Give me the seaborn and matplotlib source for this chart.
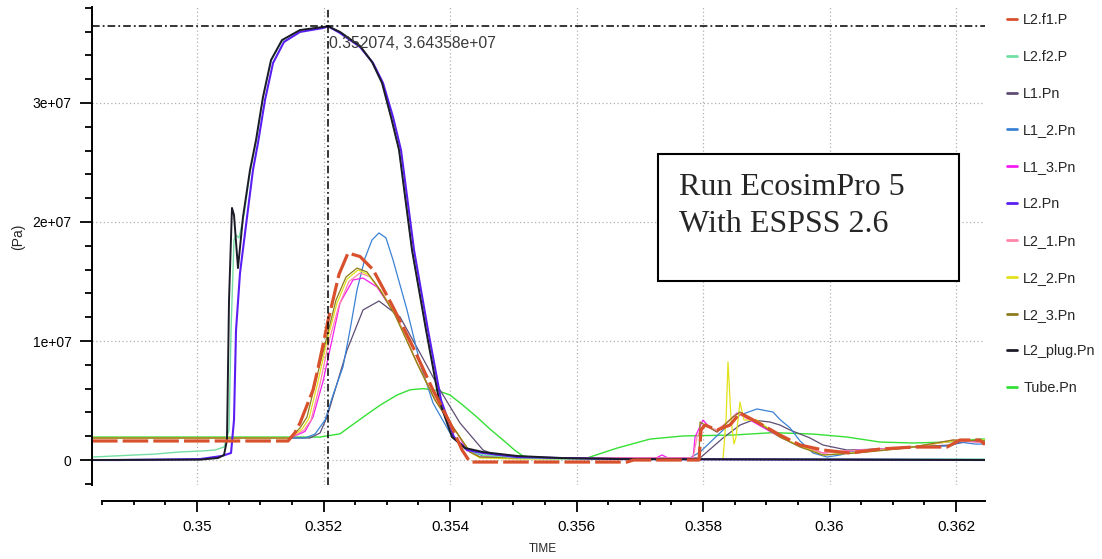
import numpy as np
import pandas as pd
import matplotlib
matplotlib.use("Agg")
import matplotlib.pyplot as plt
import seaborn as sns
from matplotlib.lines import Line2D
from matplotlib.patches import Rectangle
from matplotlib.ticker import MultipleLocator, FuncFormatter

# ---------------- data: time [s], pressure [1e6 Pa] ----------------
series_names = ["L2.f1.P", "L2.f2.P", "L1.Pn", "L1_2.Pn", "L1_3.Pn", "L2.Pn",
                "L2_1.Pn", "L2_2.Pn", "L2_3.Pn", "L2_plug.Pn", "Tube.Pn"]
series_colors = ["#d8502c", "#74dea4", "#5e4d73", "#3b82d4", "#f51cf0", "#5a1ef2",
                 "#ff86a8", "#e2e21a", "#8c7c1c", "#1c1c28", "#35e035"]

t_f1 = [0.348340, 0.351439, 0.351549, 0.351628, 0.351739, 0.351834, 0.351913, 0.351992,
        0.352071, 0.352150, 0.352245, 0.352387, 0.352577, 0.352783, 0.353099, 0.353415,
        0.353731, 0.354000, 0.354190, 0.354316, 0.356798, 0.356900, 0.357937, 0.357968,
        0.358032, 0.358222, 0.358427, 0.358585, 0.358854, 0.359217, 0.359534, 0.359897,
        0.360324, 0.360798, 0.361320, 0.361858, 0.362063, 0.362379, 0.362458]
p_f1 = [1.60, 1.60, 2.30, 3.11, 4.60, 5.88, 7.70, 9.66, 11.70, 13.45, 15.60, 17.39, 17.10,
        16.0, 12.86, 9.50, 5.88, 3.11, 0.84, -0.17, -0.17, 0.0, 0.0, 2.52, 2.94, 2.52,
        2.94, 3.95, 3.19, 2.10, 1.26, 0.84, 0.59, 0.92, 1.09, 1.09, 1.68, 1.68, 1.30]

t_f2 = [0.348340, 0.349336, 0.349715, 0.350079, 0.350285, 0.350427, 0.350506, 0.350538,
        0.350585, 0.350617, 0.350664, 0.350743, 0.350838, 0.350933, 0.351043, 0.351170,
        0.351344, 0.351628, 0.352074, 0.352261, 0.352577, 0.352767, 0.352925, 0.353067,
        0.353194, 0.353399, 0.353621, 0.353826, 0.354032, 0.354237, 0.354522, 0.355107,
        0.355739, 0.362458]
p_f2 = [0.25, 0.50, 0.67, 0.76, 0.84, 1.09, 2.52, 10.92, 18.49, 18.91, 18.66, 20.59,
        24.20, 26.72, 30.42, 33.53, 35.21, 36.13, 36.44, 35.97, 34.79, 33.45, 31.68,
        28.82, 26.05, 17.65, 10.92, 5.04, 1.93, 0.92, 0.42, 0.17, 0.08, 0.08]

t_l1 = [0.348340, 0.351787, 0.351945, 0.352055, 0.352372, 0.352625, 0.352877, 0.353209,
        0.353526, 0.353842, 0.354158, 0.354522, 0.354791, 0.355107, 0.357953, 0.358316,
        0.358585, 0.358791, 0.359060, 0.359217, 0.359375, 0.359692, 0.359897, 0.360276,
        0.360798, 0.361115, 0.361905, 0.362300, 0.362458]
p_l1 = [1.85, 1.85, 2.27, 3.61, 9.24, 12.61, 13.36, 12.02, 8.99, 5.88, 3.11, 0.84, 0.25,
        0.17, 0.17, 1.85, 2.94, 3.36, 3.19, 2.94, 2.52, 1.85, 1.26, 0.84, 0.92, 1.01,
        1.26, 1.68, 1.60]

t_l12 = [0.348340, 0.351708, 0.351866, 0.352024, 0.352150, 0.352308, 0.352419, 0.352530,
         0.352656, 0.352767, 0.352877, 0.352988, 0.353099, 0.353320, 0.353526, 0.353731,
         0.354000, 0.354269, 0.354522, 0.355107, 0.357795, 0.357953, 0.358316, 0.358585,
         0.358854, 0.359107, 0.359217, 0.359375, 0.359534, 0.359739, 0.359960, 0.360166,
         0.360435, 0.360798, 0.361225, 0.361905, 0.362063, 0.362300, 0.362458]
p_l12 = [1.85, 1.85, 2.18, 3.36, 5.46, 7.82, 10.92, 14.29, 16.97, 18.49, 19.08, 18.66,
         16.81, 12.61, 8.15, 4.79, 2.27, 0.84, 0.34, 0.17, 0.17, 0.67, 2.52, 3.78, 4.29,
         4.03, 3.40, 2.70, 1.60, 0.59, 0.25, 0.42, 0.84, 0.92, 1.09, 1.18, 1.51, 1.34, 1.34]

t_l13 = [0.348340, 0.351470, 0.351708, 0.351834, 0.351992, 0.352134, 0.352261, 0.352466,
         0.352625, 0.352846, 0.353162, 0.353478, 0.353763, 0.354111, 0.354269, 0.354474,
         0.355107, 0.357257, 0.357352, 0.357447, 0.357842, 0.357874, 0.358000, 0.358111,
         0.358222, 0.358538, 0.358743, 0.359217, 0.359534, 0.359897, 0.360482, 0.361225,
         0.361953, 0.362458]
p_l13 = [1.85, 1.85, 2.40, 3.61, 6.60, 10.08, 13.20, 15.13, 15.29, 14.54, 12.02, 8.15,
         5.04, 2.27, 0.80, 0.25, 0.17, 0.17, 0.42, 0.17, 0.17, 1.93, 3.36, 2.69, 2.35,
         3.95, 3.36, 1.93, 1.18, 0.59, 0.84, 1.01, 1.60, 1.51]

t_l2 = [0.348340, 0.348767, 0.350047, 0.350395, 0.350538, 0.350585, 0.350617, 0.350680,
        0.350791, 0.350885, 0.350964, 0.351075, 0.351202, 0.351375, 0.351628, 0.351992,
        0.352074, 0.352261, 0.352577, 0.352783, 0.352941, 0.353099, 0.353225, 0.353431,
        0.353652, 0.353858, 0.354063, 0.354269, 0.354522, 0.355059, 0.355739, 0.356688,
        0.362458]
p_l2 = [0.0, 0.0, 0.08, 0.34, 0.59, 3.36, 10.92, 15.71, 20.42, 24.37, 26.64, 30.25,
        33.36, 35.13, 35.97, 36.30, 36.44, 35.88, 34.71, 33.36, 31.68, 28.82, 26.05,
        17.65, 10.92, 5.04, 1.93, 0.84, 0.59, 0.25, 0.17, 0.08, 0.0]

t_l21 = [0.348340, 0.351470, 0.351692, 0.351803, 0.351945, 0.352087, 0.352245, 0.352403,
         0.352577, 0.352735, 0.352925, 0.353162, 0.353478, 0.353763, 0.354111, 0.354316,
         0.354474, 0.355107, 0.357842, 0.357905, 0.358000, 0.358222, 0.358538, 0.358854,
         0.359217, 0.359534, 0.359897, 0.360482, 0.361225, 0.361953, 0.362458]
p_l21 = [1.85, 1.85, 2.52, 3.36, 6.40, 10.00, 13.00, 15.00, 15.71, 15.40, 14.10, 12.00,
         8.15, 5.04, 2.27, 0.67, 0.25, 0.17, 0.17, 1.93, 2.94, 2.52, 3.87, 3.28, 1.93,
         1.18, 0.59, 0.84, 1.01, 1.68, 1.43]

t_l22 = [0.348340, 0.351470, 0.351660, 0.351771, 0.351913, 0.352055, 0.352214, 0.352372,
         0.352545, 0.352704, 0.352909, 0.353146, 0.353478, 0.353763, 0.354111, 0.354316,
         0.354474, 0.355107, 0.358316, 0.358364, 0.358395, 0.358443, 0.358490, 0.358522,
         0.358585, 0.358648, 0.358854, 0.359217, 0.359534, 0.359897, 0.360324, 0.361225,
         0.361953, 0.362458]
p_l22 = [1.85, 1.85, 2.60, 3.50, 6.60, 10.00, 13.20, 15.20, 15.97, 15.60, 14.20, 12.10,
         8.15, 5.04, 2.27, 0.67, 0.17, 0.08, 0.08, 3.36, 8.24, 3.36, 1.34, 1.93, 4.87,
         3.36, 3.36, 1.93, 1.18, 0.42, 0.59, 1.01, 1.60, 1.68]

t_l23 = [0.348340, 0.351470, 0.351628, 0.351739, 0.351882, 0.352040, 0.352198, 0.352356,
         0.352530, 0.352688, 0.352893, 0.353130, 0.353478, 0.353763, 0.354111, 0.354316,
         0.354474, 0.355107, 0.357937, 0.357953, 0.358032, 0.358222, 0.358474, 0.358585,
         0.358854, 0.359217, 0.359534, 0.359897, 0.360435, 0.361225, 0.361953, 0.362458]
p_l23 = [1.85, 1.85, 2.69, 3.61, 6.72, 10.08, 13.45, 15.38, 16.13, 15.80, 14.29, 12.18,
         8.15, 5.04, 2.27, 0.67, 0.25, 0.17, 0.08, 3.19, 2.94, 2.35, 3.61, 4.03, 3.19,
         1.93, 1.09, 0.42, 0.59, 1.01, 1.68, 1.60]

t_plug = [0.348340, 0.350047, 0.350332, 0.350427, 0.350474, 0.350506, 0.350553, 0.350585,
          0.350648, 0.350727, 0.350838, 0.350933, 0.351043, 0.351170, 0.351344, 0.351628,
          0.352074, 0.352261, 0.352577, 0.352767, 0.352925, 0.353067, 0.353194, 0.353399,
          0.353621, 0.353826, 0.354032, 0.354237, 0.354522, 0.355059, 0.355739, 0.356688,
          0.362458]
p_plug = [0.0, 0.03, 0.17, 0.42, 1.68, 13.40, 21.18, 20.59, 16.13, 20.42, 24.37, 26.89,
          30.50, 33.61, 35.29, 36.13, 36.44, 35.97, 34.79, 33.45, 31.68, 28.82, 26.05,
          17.65, 10.92, 5.04, 1.93, 1.01, 0.67, 0.34, 0.17, 0.08, 0.0]

t_tube = [0.348340, 0.351945, 0.352261, 0.352625, 0.352893, 0.353162, 0.353368, 0.353573,
          0.353795, 0.354000, 0.354206, 0.354427, 0.354632, 0.354838, 0.355028, 0.355154,
          0.355344, 0.356166, 0.356640, 0.357162, 0.357684, 0.358474, 0.359107, 0.359739,
          0.360276, 0.360798, 0.361320, 0.361858, 0.362379, 0.362458]
p_tube = [1.93, 1.93, 2.20, 3.60, 4.60, 5.46, 5.90, 6.00, 5.85, 5.46, 4.60, 3.60, 2.60,
          1.68, 0.80, 0.34, 0.17, 0.17, 1.00, 1.76, 2.02, 2.10, 2.30, 2.18, 1.93, 1.51,
          1.43, 1.51, 1.76, 1.76]

cursor_t = 0.352074
cursor_p = 3.64358e7
x_ticks_major = 0.002
y_ticks_major = 1e7

series_t = [t_f1, t_f2, t_l1, t_l12, t_l13, t_l2, t_l21, t_l22, t_l23, t_plug, t_tube]
series_p = [p_f1, p_f2, p_l1, p_l12, p_l13, p_l2, p_l21, p_l22, p_l23, p_plug, p_tube]

df = pd.concat([pd.DataFrame({"series": n, "time": t, "pressure": np.array(p) * 1e6})
                for n, t, p in zip(series_names, series_t, series_p)], ignore_index=True)

# ---------------- figure ----------------
sns.set_theme(style="white")
plt.rcParams["font.family"] = ["Liberation Sans", "DejaVu Sans"]

W, H = 1102, 559
fig = plt.figure(figsize=(W / 100, H / 100), dpi=100)
ax_left, ax_right, ax_top, ax_bottom = 92, 985, 6.6, 485
ax = fig.add_axes([ax_left / W, 1 - ax_bottom / H, (ax_right - ax_left) / W, (ax_bottom - ax_top) / H])

color_of = dict(zip(series_names, series_colors))
width_of = {n: 0.9 for n in series_names}
width_of.update({"L2.Pn": 1.5, "L2_plug.Pn": 1.4, "L2.f2.P": 1.0, "Tube.Pn": 1.0, "L2.f1.P": 2.3})
draw_order = ["Tube.Pn", "L1.Pn", "L1_2.Pn", "L1_3.Pn", "L2_1.Pn", "L2_2.Pn", "L2_3.Pn",
              "L2.f2.P", "L2.Pn", "L2_plug.Pn", "L2.f1.P"]

for name in draw_order:
    sub = df[df["series"] == name]
    kw = {}
    if name == "L2.f1.P":
        kw = dict(linestyle=(0, (8, 1.6)), dash_capstyle="butt")
    sns.lineplot(data=sub, x="time", y="pressure", color=color_of[name], lw=width_of[name],
                 estimator=None, sort=False, legend=False, ax=ax, **kw)

ax.set_xlim(0.348340, 0.362458)
ax.set_ylim(-2.1e6, 3.81e7)

# cursor cross-hair
ax.axvline(cursor_t, color="black", lw=1.1, linestyle=(0, (5, 2, 1.2, 2)), zorder=4)
ax.axhline(cursor_p, color="black", lw=1.1, linestyle=(0, (5, 2, 1.2, 2)), zorder=4)
ax.annotate(f"{cursor_t:g}, 3.64358e+07", xy=(cursor_t, cursor_p), xytext=(1, -10),
            textcoords="offset pixels", ha="left", va="top", fontsize=11.3, color="#3a3a3a")

# axes styling
for s in ["top", "right"]:
    ax.spines[s].set_visible(False)
ax.spines["left"].set(color="black", linewidth=1.4)
ax.spines["bottom"].set(color="black", linewidth=1.4)
ax.spines["bottom"].set_position(("outward", 11.5))
ax.spines["bottom"].set_bounds(0.3485, 0.362458)

ax.xaxis.set_major_locator(MultipleLocator(x_ticks_major))
ax.xaxis.set_minor_locator(MultipleLocator(x_ticks_major / 4))
ax.yaxis.set_major_locator(MultipleLocator(y_ticks_major))
ax.yaxis.set_minor_locator(MultipleLocator(y_ticks_major / 5))
ax.xaxis.set_major_formatter(FuncFormatter(lambda v, p: f"{v:g}"))
ax.yaxis.set_major_formatter(FuncFormatter(lambda v, p: "0" if abs(v) < 1 else f"{v:.0e}"))

ax.tick_params(axis="x", which="major", bottom=True, direction="out", length=7.7, width=1.3,
               labelsize=11, pad=6, colors="black")
ax.tick_params(axis="x", which="minor", bottom=True, direction="out", length=2.9, width=1.3,
               colors="black")
ax.tick_params(axis="y", which="major", left=True, direction="out", length=8.6, width=1.3,
               labelsize=10, pad=6, colors="black")
ax.tick_params(axis="y", which="minor", left=True, direction="out", length=5, width=1.3,
               colors="black")

ax.grid(True, which="major", color="#b0b0b0", linestyle=(0, (1, 2)), linewidth=0.9)

ax.set_xlabel("TIME", fontsize=8.5)
ax.xaxis.set_label_coords((543 - ax_left) / (ax_right - ax_left), (ax_bottom - 543) / (ax_bottom - ax_top))
ax.set_ylabel("(Pa)", fontsize=10)
ax.yaxis.set_label_coords((25 - ax_left) / (ax_right - ax_left), (ax_bottom - 237) / (ax_bottom - ax_top))

# legend
handles = [Line2D([0], [0], color=c, lw=2) for c in series_colors]
fig.legend(handles, series_names, loc="upper left", bbox_to_anchor=(1007 / W, 1 - 13 / H),
           frameon=False, fontsize=10.4, handlelength=0.7, handletextpad=0.42,
           labelspacing=1.58, borderpad=0, borderaxespad=0)

# annotation box
rect = Rectangle((658 / W, 1 - 281 / H), 301 / W, 127 / H, transform=fig.transFigure,
                 facecolor="white", edgecolor="black", lw=1.5, zorder=5)
fig.add_artist(rect)
fig.text(679 / W, 1 - 195 / H, "Run EcosimPro 5", family="Liberation Serif", fontsize=23,
         va="baseline", ha="left", zorder=6)
fig.text(679 / W, 1 - 232 / H, "With ESPSS 2.6", family="Liberation Serif", fontsize=23,
         va="baseline", ha="left", zorder=6)

fig.savefig("out.png", dpi=100)
